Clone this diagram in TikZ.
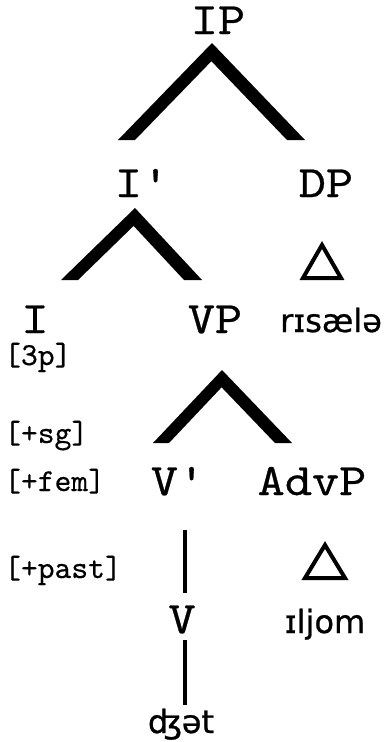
\documentclass[tikz,border=0pt]{standalone}
\usepackage{fontspec}
\newfontfamily\ipafont{DejaVu Sans}[FakeBold=0.8]
\newfontfamily\courbig{lmmono10-regular.otf}[FakeBold=0.6, FakeStretch=1.15]
\newfontfamily\coursmall{lmmono10-regular.otf}[FakeBold=0.4]
\begin{document}
\begin{tikzpicture}[x=1pt,y=-1pt,
  biglab/.style={font=\courbig\fontsize{45}{45}\selectfont, inner sep=0pt, anchor=base},
  featlab/.style={font=\coursmall\fontsize{32}{32}\selectfont, inner sep=0pt, anchor=base west},
  ipalab/.style={font=\ipafont\fontsize{32}{32}\selectfont, inner sep=0pt, anchor=base},
  wedgefill/.style={fill=black},
  tri/.style={draw=black, line width=4pt, line join=miter},
  stem/.style={draw=black, line width=4pt}]
\useasboundingbox (0,0) rectangle (390,742);

% labels
\node[biglab] (IP) at (218,34) {IP};
\node[biglab] (Ibar) at (142,197) {I\char"27};
\node[biglab] (DP) at (326,197) {DP};
\node[biglab] (I) at (35,333) {I};
\node[biglab] (VP) at (215,333) {VP};
\node[ipalab, anchor=base west] (risale) at (280,332) {rɪsælə};
\node[featlab] (f1) at (4,365) {[3p]};
\node[featlab] (f2) at (4,443) {[+sg]};
\node[featlab] (f3) at (4,491) {[+fem]};
\node[featlab] (f4) at (4,578) {[+past]};
\node[biglab] (Vbar) at (178,495) {V\char"27};
\node[biglab] (AdvP) at (312,495) {AdvP};
\node[biglab] (V) at (182,633) {V};
\node[ipalab] (iljom) at (325,633) {ɪljom};
\node[ipalab] (jet) at (181,733) {ʤət};

% IP wedge
\coordinate (ipA) at (212,43);
\coordinate (ipB) at (211.4,61.2);
\fill[wedgefill] (118,140) -- (ipA) -- (305,140) -- (287,140) -- (ipB) -- (135,140) -- cycle;
% I' wedge
\coordinate (ibA) at (135,208);
\coordinate (ibB) at (133.6,225.9);
\fill[wedgefill] (61,280) -- (ibA) -- (202,280) -- (184,280) -- (ibB) -- (78,280) -- cycle;
% VP wedge
\coordinate (vpA) at (222,370);
\coordinate (vpB) at (221.6,387.3);
\fill[wedgefill] (153,443) -- (vpA) -- (292,443) -- (275,443) -- (vpB) -- (169,443) -- cycle;

% triangles
\draw[tri] (322,245) -- (341,278) -- (303,278) -- cycle;
\draw[tri] (325,545) -- (345,578) -- (305,578) -- cycle;

% stems
\coordinate (s1) at (185,530);
\coordinate (s2) at (185,593);
\coordinate (s3) at (185,640);
\coordinate (s4) at (185,705);
\draw[stem] (s1) -- (s2);
\draw[stem] (s3) -- (s4);
\end{tikzpicture}
\end{document}
